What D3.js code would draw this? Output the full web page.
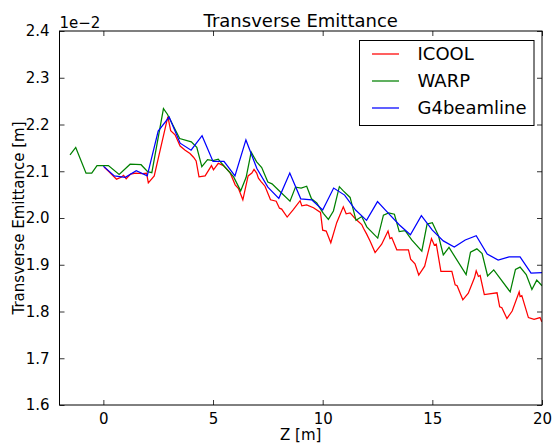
<!DOCTYPE html>
<html>
<head>
<meta charset="utf-8">
<script src="https://cdn.jsdelivr.net/npm/d3@7"></script>
<style>
  body { margin: 0; background: #fff; }
  text { font-family: "DejaVu Sans", sans-serif; fill: #000; }
</style>
</head>
<body>
<div id="chart"></div>
<script>
// emittance values are in units of 1e-2 m
var icool_z = [0.03, 0.26, 0.60, 0.81, 0.92, 1.04, 1.24, 1.47, 1.79, 1.97, 2.05, 2.32, 2.94, 3.07, 3.27,
  3.50, 3.73, 3.95, 4.11, 4.23, 4.36, 4.64, 4.93, 5.02, 5.24, 5.47, 5.78, 6.01, 6.16, 6.36, 6.60, 6.77,
  6.87, 6.99, 7.07, 7.19, 7.37, 7.62, 7.88, 8.03, 8.13, 8.38, 8.66, 8.97, 9.05, 9.27, 9.58, 9.90, 10.00,
  10.16, 10.37, 10.64, 10.94, 11.07, 11.25, 11.50, 11.78, 11.86, 12.00, 12.16, 12.39, 12.69, 12.98, 13.07,
  13.15, 13.38, 13.91, 14.01, 14.21, 14.38, 14.65, 14.96, 15.09, 15.18, 15.39, 15.89, 16.04, 16.13, 16.39,
  16.64, 16.92, 17.00, 17.10, 17.18, 17.37, 17.95, 18.07, 18.17, 18.40, 18.64, 18.96, 19.00, 19.08, 19.38,
  19.64, 19.91, 19.99];
var icool_e = [2.109, 2.099, 2.083, 2.087, 2.091, 2.084, 2.094, 2.096, 2.095, 2.096, 2.075, 2.090, 2.217, 2.187, 2.178,
  2.154, 2.145, 2.138, 2.130, 2.122, 2.088, 2.090, 2.112, 2.103, 2.117, 2.112, 2.097, 2.071, 2.063, 2.039, 2.090, 2.096,
  2.104, 2.096, 2.085, 2.078, 2.068, 2.039, 2.036, 2.021, 2.019, 2.002, 2.018, 2.037, 2.026, 2.028, 2.022, 2.012, 1.974,
  1.972, 1.947, 1.990, 2.024, 2.009, 2.011, 1.998, 1.986, 1.978, 1.966, 1.951, 1.926, 1.944, 1.972, 1.956,
  1.958, 1.932, 1.932, 1.912, 1.902, 1.878, 1.897, 1.956, 1.942, 1.944, 1.886, 1.886, 1.857, 1.855, 1.825,
  1.839, 1.872, 1.887, 1.875, 1.877, 1.836, 1.840, 1.810, 1.808, 1.785, 1.801, 1.842, 1.832, 1.834, 1.787,
  1.783, 1.787, 1.778];

var warp_z = [-1.52, -1.26, -0.79, -0.53, -0.29, 0.23, 0.72, 1.22, 1.72, 2.02, 2.21, 2.74, 2.92, 3.48, 4.01,
  4.26, 4.49, 4.75, 5.00, 5.24, 5.41, 5.94, 6.26, 6.51, 6.74, 6.99, 7.22, 7.50, 7.69, 7.98, 8.51, 8.76,
  9.02, 9.27, 9.49, 9.73, 10.03, 10.26, 10.49, 10.76, 10.94, 11.25, 11.52, 11.78, 12.01, 12.51, 12.77,
  13.01, 13.27, 13.49, 13.76, 14.06, 14.52, 14.76, 15.00, 15.28, 15.50, 15.76, 16.54, 16.74, 17.03, 17.27,
  17.52, 17.80, 18.55, 18.79, 19.00, 19.28, 19.54, 19.76, 20.00];
var warp_e = [2.135, 2.151, 2.096, 2.096, 2.112, 2.112, 2.093, 2.115, 2.114, 2.099, 2.097, 2.234, 2.222, 2.170, 2.163,
  2.151, 2.110, 2.125, 2.123, 2.126, 2.116, 2.088, 2.058, 2.087, 2.141, 2.120, 2.108, 2.077, 2.073, 2.060, 2.036, 2.066,
  2.064, 2.068, 2.041, 2.032, 2.010, 1.997, 2.015, 2.067, 2.058, 2.044, 1.995, 2.003, 1.981, 1.957, 2.006,
  2.011, 2.008, 1.971, 1.973, 1.953, 1.929, 1.987, 1.990, 1.962, 1.921, 1.937, 1.879, 1.927, 1.934, 1.924,
  1.876, 1.889, 1.842, 1.890, 1.895, 1.879, 1.847, 1.867, 1.855];

var g4bl_z = [0, 0.5, 1, 1.5, 2, 2.5, 3, 3.5, 4, 4.5, 5, 5.5, 6, 6.5, 7, 7.5, 8, 8.5, 9, 9.5, 10,
  10.5, 11, 11.5, 12, 12.5, 13, 13.5, 14, 14.5, 15, 15.5, 16, 16.5, 17, 17.5, 18, 18.5, 19, 19.5, 20];
var g4bl_e = [2.111, 2.090, 2.087, 2.101, 2.090, 2.186, 2.216, 2.160, 2.145, 2.176, 2.121, 2.121, 2.090, 2.167, 2.106,
  2.066, 2.042, 2.096, 2.041, 2.039, 2.017, 2.064, 2.049, 2.017, 1.995, 2.035, 2.010, 1.985, 1.964, 2.005, 1.974,
  1.951, 1.938, 1.953, 1.962, 1.923, 1.910, 1.917, 1.917, 1.882, 1.883];

var series_names = ['ICOOL', 'WARP', 'G4beamline'];
var series_colors = ['#ff0000', '#008000', '#0000ff'];
var x_ticks = [0, 5, 10, 15, 20];
var y_ticks = [1.6, 1.7, 1.8, 1.9, 2.0, 2.1, 2.2, 2.3, 2.4];

var width = 552, height = 445;
var plot = {left: 59.5, right: 542, top: 31, bottom: 405};

var svg = d3.select('#chart').append('svg')
  .attr('width', width)
  .attr('height', height);

var x = d3.scaleLinear().domain([-2, 20]).range([plot.left, plot.right]);
var y = d3.scaleLinear().domain([1.6, 2.4]).range([plot.bottom, plot.top]);

function zip(zs, es) {
  return zs.map(function(z, i) { return [z, es[i]]; });
}
var all_data = [zip(icool_z, icool_e), zip(warp_z, warp_e), zip(g4bl_z, g4bl_e)];

var line = d3.line()
  .x(function(d) { return x(d[0]); })
  .y(function(d) { return y(d[1]); });

svg.append('defs').append('clipPath').attr('id', 'clip')
  .append('rect')
  .attr('x', plot.left).attr('y', plot.top)
  .attr('width', plot.right - plot.left).attr('height', plot.bottom - plot.top);

// series lines
svg.append('g').attr('clip-path', 'url(#clip)')
  .selectAll('path')
  .data(all_data)
  .enter().append('path')
  .attr('d', line)
  .attr('fill', 'none')
  .attr('stroke', function(d, i) { return series_colors[i]; })
  .attr('stroke-width', 1.25)
  .attr('stroke-linejoin', 'miter');

// frame
svg.append('rect')
  .attr('x', plot.left).attr('y', plot.top)
  .attr('width', plot.right - plot.left).attr('height', plot.bottom - plot.top)
  .attr('fill', 'none').attr('stroke', '#000').attr('stroke-width', 1);

// ticks, inward on all four sides
var tick_len = 5;
var axes = svg.append('g');
axes.append('g').attr('transform', 'translate(0,' + plot.bottom + ')')
  .call(d3.axisBottom(x).tickValues(x_ticks).tickSizeInner(-tick_len).tickSizeOuter(0).tickPadding(8))
  .call(function(g) { g.select('.domain').remove(); });
axes.append('g').attr('transform', 'translate(0,' + plot.top + ')')
  .call(d3.axisTop(x).tickValues(x_ticks).tickSizeInner(-tick_len).tickSizeOuter(0).tickFormat(''))
  .call(function(g) { g.select('.domain').remove(); });
axes.append('g').attr('transform', 'translate(' + plot.left + ',0)')
  .call(d3.axisLeft(y).tickValues(y_ticks).tickSizeInner(-tick_len).tickSizeOuter(0).tickPadding(10).tickFormat(d3.format('.1f')))
  .call(function(g) { g.select('.domain').remove(); });
axes.append('g').attr('transform', 'translate(' + plot.right + ',0)')
  .call(d3.axisRight(y).tickValues(y_ticks).tickSizeInner(-tick_len).tickSizeOuter(0).tickFormat(''))
  .call(function(g) { g.select('.domain').remove(); });

axes.selectAll('.tick line').attr('stroke', '#000').attr('stroke-width', 0.8);
axes.selectAll('.tick text')
  .attr('font-family', '"DejaVu Sans", sans-serif')
  .attr('font-size', 15)
  .attr('fill', '#000');

// offset text
svg.append('text')
  .attr('x', plot.left).attr('y', 28)
  .attr('font-size', 15)
  .text('1e\u22122');

// title
svg.append('text')
  .attr('x', (plot.left + plot.right) / 2).attr('y', 26.5)
  .attr('text-anchor', 'middle')
  .attr('font-size', 18)
  .text('Transverse Emittance');

// axis labels
svg.append('text')
  .attr('x', (plot.left + plot.right) / 2).attr('y', 440)
  .attr('text-anchor', 'middle')
  .attr('font-size', 15)
  .text('Z [m]');

svg.append('text')
  .attr('transform', 'translate(24,' + (plot.top + plot.bottom) / 2 + ') rotate(-90)')
  .attr('text-anchor', 'middle')
  .attr('font-size', 15)
  .text('Transverse Emittance [m]');

// legend
var legend = svg.append('g').attr('transform', 'translate(359.5,40.5)');
legend.append('rect')
  .attr('width', 174.5).attr('height', 85)
  .attr('fill', '#fff').attr('stroke', '#000').attr('stroke-width', 1);

var items = legend.selectAll('.item')
  .data(series_names)
  .enter().append('g')
  .attr('class', 'item')
  .attr('transform', function(d, i) { return 'translate(0,' + (13.5 + i * 27) + ')'; });

items.append('line')
  .attr('x1', 12.5).attr('x2', 39.5)
  .attr('stroke', function(d, i) { return series_colors[i]; })
  .attr('stroke-width', 1.25);

items.append('text')
  .attr('x', 58).attr('y', 0)
  .attr('dy', '0.36em')
  .attr('font-size', 18)
  .text(function(d) { return d; });
</script>
</body>
</html>
